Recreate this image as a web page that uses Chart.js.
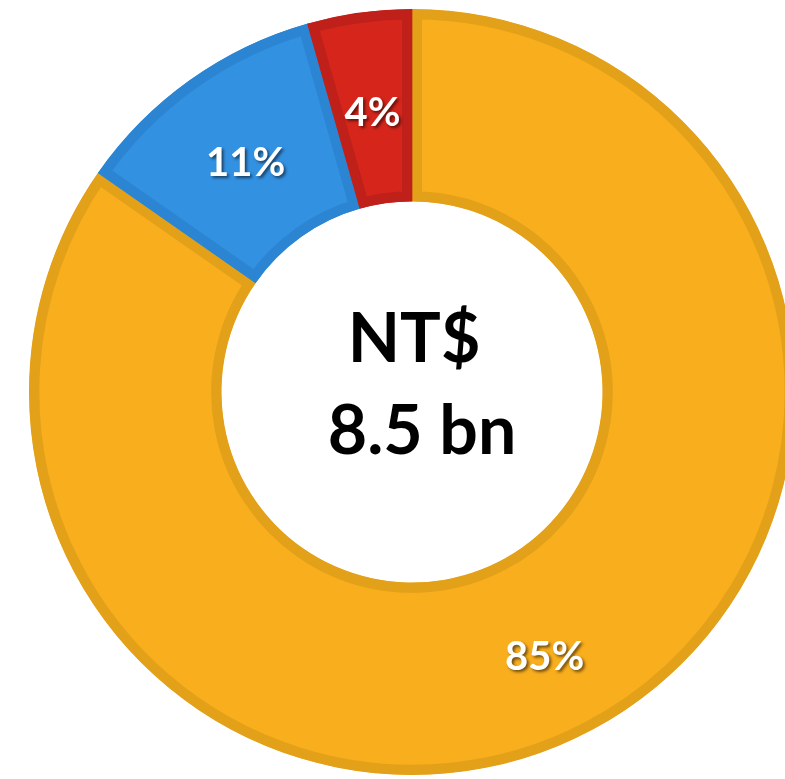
<!DOCTYPE html>
<html>
<head>
<meta charset="utf-8">
<script src="https://cdn.jsdelivr.net/npm/chart.js@4.4.1/dist/chart.umd.min.js"></script>
<style>
  html, body { margin: 0; padding: 0; background: #ffffff; overflow: hidden; width: 785px; height: 779px; }
  #wrap { position: absolute; left: 0; top: 0; width: 824px; height: 784px; }
</style>
</head>
<body>
<div id="wrap"><canvas id="c" width="824" height="784"></canvas></div>
<script>
// ---- data ----
const categories = ['Category A', 'Category B', 'Category C'];
const shares = [84.7, 10.9, 4.4];
const fillColors = ['#F9AE1D', '#3391E2', '#D6261B'];
const borderColors = ['#E3A11A', '#2B85D3', '#BF211A'];
const centerLines = ['NT$', '8.5 bn'];

const labelPlugin = {
  id: 'sliceLabels',
  afterDatasetsDraw(chart) {
    const ctx = chart.ctx;
    const meta = chart.getDatasetMeta(0);
    const total = shares.reduce((a, b) => a + b, 0);
    ctx.save();
    ctx.font = 'bold 40px Lato, "Open Sans", sans-serif';
    ctx.textAlign = 'center';
    ctx.textBaseline = 'middle';
    ctx.fillStyle = '#ffffff';
    ctx.shadowColor = 'rgba(0,0,0,0.55)';
    ctx.shadowOffsetX = 2;
    ctx.shadowOffsetY = 2;
    ctx.shadowBlur = 3;
    meta.data.forEach((arc, i) => {
      const p = arc.tooltipPosition();
      const txt = Math.round(shares[i] / total * 100) + '%';
      const dy = i === 0 ? 11 : 5;
      ctx.fillText(txt, p.x, p.y + dy);
    });
    ctx.restore();

    // centre text
    const a = meta.data[0];
    ctx.save();
    ctx.font = 'bold 68px Lato, "Open Sans", sans-serif';
    ctx.textAlign = 'center';
    ctx.textBaseline = 'middle';
    ctx.fillStyle = '#000000';
    ctx.fillText(centerLines[0], a.x + 2, a.y - 52);
    ctx.fillText(centerLines[1], a.x + 10, a.y + 40);
    ctx.restore();
  }
};

new Chart(document.getElementById('c'), {
  type: 'doughnut',
  data: {
    labels: categories,
    datasets: [{
      data: shares,
      backgroundColor: fillColors,
      borderColor: borderColors,
      borderWidth: 10,
      borderAlign: 'inner',
      hoverOffset: 0
    }]
  },
  options: {
    responsive: false,
    animation: false,
    devicePixelRatio: 1,
    radius: 383,
    cutout: 195,
    rotation: 0,
    layout: { padding: 0 },
    plugins: {
      legend: { display: false },
      tooltip: { enabled: false }
    }
  },
  plugins: [labelPlugin]
});
</script>
</body>
</html>
